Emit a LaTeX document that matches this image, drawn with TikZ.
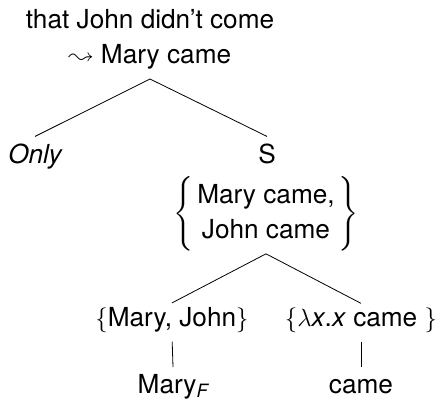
\documentclass[tikz,border=0pt]{standalone}
\usepackage{amsmath}
\usepackage{latexsym}
\usepackage{fontspec}
\setmainfont{TeX Gyre Heros}
\begin{document}
\begin{tikzpicture}[
  x=1pt, y=-1pt,
  font=\fontsize{26.2}{35}\selectfont,
  every node/.style={inner sep=0pt, outer sep=0pt},
  edge/.style={line width=0.8pt},
  rootlbl/.style={anchor=base, inner ysep=5.5pt},
  lbl/.style={anchor=base, inner ysep=7pt},
  setlbl/.style={inner ysep=3pt},
  midlbl/.style={anchor=base, inner ysep=4pt},
  leaf/.style={anchor=base, text height=19pt, text depth=6.5pt, inner ysep=7pt}
]
\useasboundingbox (0,0) rectangle (440,399);

% root with its inference
\node[rootlbl] (root) at (150,63)
  {\begin{tabular}[b]{@{}c@{}}that John didn’t come\\ $\leadsto$ Mary came\end{tabular}};

% first split
\node[lbl] (only) at (35,163) {\itshape Only};
\node[lbl] (s) at (267,163) {S};

% alternative set of S
\node[setlbl] (alts) at (266,213.5)
  {$\left\{\begin{tabular}{@{\hspace{4pt}}c@{\hspace{4pt}}}Mary came,\\John came\end{tabular}\right\}$};

% second split
\node[midlbl] (mj) at (172,326) {$\{$Mary, John$\}$};
\node[midlbl] (pred) at (361,326) {$\{\lambda$\textit{x}.\textit{x} came $\}$};

% leaves
\node[leaf] (maryf) at (173,393) {Mary$_{\text{\itshape F}}$};
\node[leaf] (came) at (361,393) {came};

\draw[edge] (root.south) -- (only.north);
\draw[edge] (root.south) -- (s.north);
\draw[edge] (alts.south) -- (mj.north);
\draw[edge] (alts.south) -- (pred.north);
\draw[edge, shorten <=5.5pt] (mj.south) -- (maryf.north);
\draw[edge, shorten <=5.5pt] (pred.south) -- (came.north);
\end{tikzpicture}
\end{document}
